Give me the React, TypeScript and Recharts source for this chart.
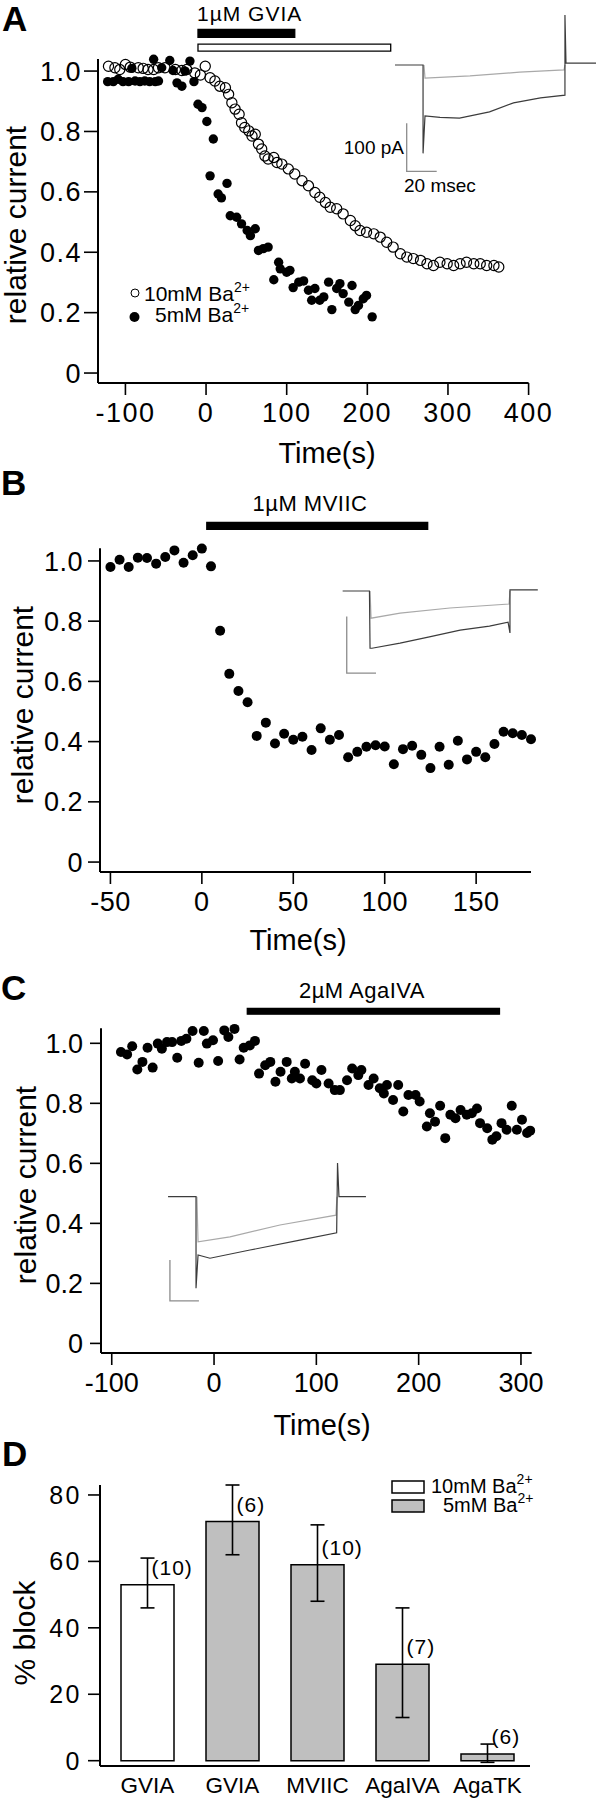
import React from "react";
import {
  Bar,
  BarChart,
  Cell,
  ErrorBar,
  LabelList,
  Line,
  LineChart,
  ReferenceArea,
  Scatter,
  ScatterChart,
  XAxis,
  YAxis,
} from "recharts";

const FONT = "'Liberation Sans', Arial, Helvetica, sans-serif";

// panel A: GVIA, two Ba2+ concentrations
const aOpenTime = [-121, -113, -107, -100, -94, -84, -78, -72, -65, -59, -51, -38, -30, -24, -14, -7, -1, 5, 11, 17, 24, 28, 32, 36, 41, 44, 48, 53, 57, 61, 65, 69, 73, 77, 84, 88, 94, 102, 110, 119, 127, 135, 141, 148, 154, 162, 170, 179, 185, 191, 199, 208, 216, 224, 232, 241, 249, 257, 266, 274, 282, 290, 299, 307, 315, 323, 332, 340, 348, 357, 363];
const aOpenValue = [1.016, 1.011, 1.005, 1.022, 1.013, 1.011, 1.009, 1.005, 1.005, 1.011, 1.011, 1.005, 1.002, 1.005, 0.994, 0.987, 1.016, 0.978, 0.967, 0.95, 0.945, 0.923, 0.895, 0.874, 0.857, 0.829, 0.813, 0.802, 0.785, 0.791, 0.758, 0.742, 0.719, 0.709, 0.714, 0.697, 0.692, 0.676, 0.659, 0.637, 0.62, 0.598, 0.582, 0.565, 0.549, 0.544, 0.527, 0.505, 0.488, 0.472, 0.466, 0.461, 0.45, 0.433, 0.417, 0.395, 0.384, 0.379, 0.373, 0.362, 0.356, 0.367, 0.362, 0.356, 0.362, 0.367, 0.362, 0.362, 0.356, 0.356, 0.351];
const aFilledTime = [-122, -115, -109, -103, -96, -92, -88, -82, -76, -70, -65, -63, -59, -55, -45, -41, -36, -30, -26, -20, -15, -10, -5, 1, 5, 9, 15, 19, 26, 30, 38, 44, 51, 55, 61, 65, 71, 77, 84, 90, 92, 100, 104, 108, 115, 121, 127, 131, 135, 141, 146, 152, 156, 162, 166, 170, 177, 181, 185, 189, 195, 199, 206];
const aFilledValue = [0.965, 0.965, 0.973, 0.965, 0.965, 1.009, 0.967, 0.965, 0.967, 0.965, 1.039, 0.965, 0.967, 1.011, 1.035, 1.002, 0.961, 0.95, 1.0, 1.033, 0.965, 0.89, 0.879, 0.833, 0.653, 0.775, 0.593, 0.58, 0.628, 0.521, 0.516, 0.494, 0.472, 0.455, 0.478, 0.406, 0.412, 0.417, 0.309, 0.367, 0.345, 0.334, 0.34, 0.283, 0.301, 0.305, 0.274, 0.241, 0.28, 0.241, 0.252, 0.301, 0.21, 0.28, 0.296, 0.263, 0.235, 0.29, 0.21, 0.224, 0.246, 0.257, 0.186];
const aTicks = [-100, 0, 100, 200, 300, 400];

// panel B: MVIIC
const bTime = [-50, -45, -40, -35, -30, -25, -20, -15, -10, -5, 0, 5, 10, 15, 20, 25, 30, 35, 40, 45, 50, 55, 60, 65, 70, 75, 80, 85, 90, 95, 100, 105, 110, 115, 120, 125, 130, 135, 140, 145, 150, 155, 160, 165, 170, 175, 180];
const bValue = [0.98, 1.004, 0.98, 1.011, 1.01, 0.991, 1.013, 1.035, 0.994, 1.019, 1.041, 0.982, 0.768, 0.625, 0.568, 0.531, 0.419, 0.463, 0.394, 0.426, 0.406, 0.416, 0.372, 0.444, 0.406, 0.422, 0.348, 0.366, 0.383, 0.388, 0.384, 0.325, 0.375, 0.386, 0.356, 0.312, 0.383, 0.323, 0.403, 0.341, 0.366, 0.348, 0.392, 0.433, 0.428, 0.422, 0.408];
const bTicks = [-50, 0, 50, 100, 150];

// panel C: AgaIVA
const cTime = [-91, -85, -80, -75, -70, -65, -60, -55, -51, -46, -41, -36, -32, -27, -21, -15, -10, -7, -1, 4, 10, 14, 20, 25, 29, 35, 40, 44, 50, 55, 60, 65, 71, 76, 79, 84, 89, 96, 100, 105, 112, 118, 123, 130, 135, 141, 144, 151, 156, 162, 166, 169, 175, 180, 185, 190, 197, 201, 208, 211, 216, 221, 226, 231, 236, 241, 247, 252, 257, 260, 267, 272, 276, 281, 286, 291, 296, 301, 306, 309];
const cValue = [0.971, 0.963, 0.99, 0.913, 0.938, 0.985, 0.919, 0.999, 0.982, 1.004, 1.004, 0.952, 1.008, 1.015, 1.041, 0.935, 1.041, 0.999, 1.01, 0.941, 1.043, 1.021, 1.048, 0.946, 0.985, 0.993, 1.008, 0.899, 0.927, 0.938, 0.872, 0.905, 0.938, 0.883, 0.905, 0.883, 0.932, 0.877, 0.866, 0.911, 0.866, 0.844, 0.844, 0.877, 0.916, 0.894, 0.911, 0.861, 0.883, 0.85, 0.833, 0.861, 0.811, 0.861, 0.773, 0.828, 0.828, 0.806, 0.723, 0.767, 0.739, 0.792, 0.684, 0.762, 0.75, 0.778, 0.762, 0.767, 0.783, 0.734, 0.717, 0.679, 0.69, 0.734, 0.712, 0.792, 0.712, 0.745, 0.701, 0.709];
const cTicks = [-100, 0, 100, 200, 300];

const relTicks = [0, 0.2, 0.4, 0.6, 0.8, 1.0];

// panel D: summary
const dCategories = ["GVIA", "GVIA", "MVIIC", "AgaIVA", "AgaTK"];
const dBlock = [53, 72, 59, 29, 2];
const dErrLow = [7, 10, 11, 16, 2.5];
const dErrHigh = [8, 11, 12, 17, 3];
const dCounts = ["(10)", "(6)", "(10)", "(7)", "(6)"];
const dBath = ["10mM", "5mM", "5mM", "5mM", "5mM"];
const dTicks = [0, 20, 40, 60, 80];

// current traces for the insets, [ms, pA]
const insetADark = [[0, 0], [18.7, 0], [18.7, -196], [20, -113], [30, -116], [43, -118], [63, -104], [79, -84], [97, -73], [113.3, -67], [113.3, 111], [114, 4], [134, 4]];
const insetAGray = [[19.3, 0], [20, -29], [50, -24], [83, -16], [112.7, -11], [113.3, 0]];
const insetAScale = [[7.8, -129], [7.8, -236], [27.8, -236]];
const insetBDark = [[1.8, 0], [20.1, 0], [20.5, -101], [21.8, -101], [41, -92], [61, -81], [82, -69], [102, -62], [114.7, -55], [116, -74], [116, 2], [135, 2]];
const insetBGray = [[20.5, 0], [21.2, -48], [41, -39], [75, -30], [115.4, -23], [116, 0]];
const insetBScale = [[4.6, -45], [4.6, -145], [24.6, -145]];
const insetCDark = [[2.1, 0], [21.4, 0], [21.4, -223], [22.8, -142], [31, -150], [58.6, -130], [93, -106], [118.4, -88], [119, 82], [120, 0], [138.6, 0]];
const insetCGray = [[22, 0], [22.8, -110], [44.8, -98], [79.3, -69], [117.9, -45], [118.6, 0]];
const insetCScale = [[3.4, -154], [3.4, -254], [23.4, -254]];

const zip = (ts: number[], vs: number[]) => ts.map((t, i) => ({ t, v: vs[i] }));
const toTrace = (pts: number[][]) => pts.map(([ms, pA]) => ({ ms, pA }));

const axisLine = { stroke: "#000", strokeWidth: 2 };
const tickLine = { stroke: "#000", strokeWidth: 1.6 };
const tickText = (spacing: number, size = 27) => ({
  fill: "#000",
  fontSize: size,
  fontFamily: FONT,
  letterSpacing: spacing,
});

const filledDot = (r: number) => (p: any) => <circle cx={p.cx} cy={p.cy} r={r} fill="#000" />;
const openDot = (p: any) => (
  <circle cx={p.cx} cy={p.cy} r={5.1} fill="none" stroke="#000" strokeWidth={1.2} />
);

type Drug = { x1: number; x2: number; y1: number; y2: number; fill: string };

function TimePanel({
  top,
  plot,
  xDomain,
  xTicks,
  yDomain,
  yTickSize,
  yTickMargin,
  spacing,
  series,
  drugs,
}: {
  top: number;
  plot: { left: number; right: number; top: number; bottom: number };
  xDomain: [number, number];
  xTicks: number[];
  yDomain: [number, number];
  yTickSize: number;
  yTickMargin: number;
  spacing: number;
  series: { data: { t: number; v: number }[]; shape: any }[];
  drugs: Drug[];
}) {
  const h = 480;
  return (
    <div style={{ position: "absolute", left: 0, top }}>
      <ScatterChart
        width={596}
        height={h}
        margin={{ top: plot.top, right: 596 - plot.right, bottom: h - plot.bottom - 30, left: plot.left - 60 }}
      >
        <XAxis
          type="number"
          dataKey="t"
          domain={xDomain}
          ticks={xTicks}
          interval={0}
          height={30}
          tickSize={12}
          tickMargin={8}
          tick={tickText(spacing)}
          tickLine={tickLine}
          axisLine={axisLine}
        />
        <YAxis
          type="number"
          dataKey="v"
          domain={yDomain}
          ticks={relTicks}
          interval={0}
          width={60}
          tickSize={yTickSize}
          tickMargin={yTickMargin}
          tickFormatter={(v: number) => (v === 0 ? "0" : v.toFixed(1))}
          tick={tickText(spacing)}
          tickLine={tickLine}
          axisLine={axisLine}
        />
        {drugs.map((d, i) => (
          <ReferenceArea
            key={i}
            x1={d.x1}
            x2={d.x2}
            y1={d.y1}
            y2={d.y2}
            fill={d.fill}
            fillOpacity={1}
            stroke="#000"
            strokeWidth={1.3}
            ifOverflow="visible"
          />
        ))}
        {series.map((s, i) => (
          <Scatter key={i} data={s.data} shape={s.shape} isAnimationActive={false} />
        ))}
      </ScatterChart>
    </div>
  );
}

function Inset({
  left,
  top,
  width,
  height,
  xDomain,
  yDomain,
  dark,
  gray,
  scale,
}: {
  left: number;
  top: number;
  width: number;
  height: number;
  xDomain: [number, number];
  yDomain: [number, number];
  dark: number[][];
  gray: number[][];
  scale: number[][];
}) {
  return (
    <div style={{ position: "absolute", left, top }}>
      <LineChart width={width} height={height} margin={{ top: 0, right: 0, bottom: 0, left: 0 }}>
        <XAxis type="number" dataKey="ms" domain={xDomain} hide allowDataOverflow />
        <YAxis type="number" domain={yDomain} hide allowDataOverflow />
        <Line data={toTrace(scale)} dataKey="pA" type="linear" dot={false} stroke="#8c8c8c" strokeWidth={1.3} isAnimationActive={false} />
        <Line data={toTrace(gray)} dataKey="pA" type="linear" dot={false} stroke="#a9a9a9" strokeWidth={1.2} isAnimationActive={false} />
        <Line data={toTrace(dark)} dataKey="pA" type="linear" dot={false} stroke="#3c3c3c" strokeWidth={1.2} isAnimationActive={false} />
      </LineChart>
    </div>
  );
}

function Summary() {
  const rows = dCategories.map((name, i) => ({
    key: `${name}-${dBath[i]}`,
    block: dBlock[i],
    err: [dErrLow[i], dErrHigh[i]],
  }));
  const h = 360;
  return (
    <div style={{ position: "absolute", left: 0, top: 1440 }}>
      <BarChart width={596} height={h} data={rows} margin={{ top: 45, right: 66, bottom: h - 326 - 30, left: 40 }}>
        <XAxis
          dataKey="key"
          height={30}
          tickLine={false}
          tickSize={0}
          tickMargin={11}
          interval={0}
          padding={{ left: 5, right: 0 }}
          tickFormatter={(_v: string, i: number) => dCategories[i]}
          tick={{ fill: "#000", fontSize: 22.5, fontFamily: FONT }}
          axisLine={axisLine}
        />
        <YAxis
          type="number"
          domain={[-1.6, 83]}
          ticks={dTicks}
          interval={0}
          width={60}
          tickSize={12}
          tickMargin={6}
          tick={tickText(2.5, 25)}
          tickLine={tickLine}
          axisLine={axisLine}
        />
        <Bar dataKey="block" barSize={53} stroke="#000" strokeWidth={1.5} isAnimationActive={false}>
          {rows.map((_r, i) => (
            <Cell key={i} fill={dBath[i] === "10mM" ? "#ffffff" : "#bfbfbf"} />
          ))}
          <ErrorBar dataKey="err" width={7} stroke="#000" strokeWidth={1.6} direction="y" />
          <LabelList
            dataKey="block"
            content={(p: any) => (
              <text
                x={Number(p.x) + Number(p.width) / 2 + 4}
                y={Number(p.y) - 10}
                fontSize={21}
                letterSpacing={1}
                fontFamily={FONT}
                fill="#000"
              >
                {dCounts[p.index]}
              </text>
            )}
          />
        </Bar>
      </BarChart>
    </div>
  );
}

const sup = (s: string) => (
  <tspan dy={-9} fontSize={14}>
    {s}
  </tspan>
);

function Annotations() {
  const t = { fontFamily: FONT, fill: "#000" };
  const letter = { ...t, fontSize: 35, fontWeight: 700 };
  const ylab = (x: number, y: number, s: string) => (
    <text {...t} fontSize={30} x={x} y={y} textAnchor="middle" transform={`rotate(-90 ${x} ${y})`}>
      {s}
    </text>
  );
  return (
    <svg
      width={596}
      height={1800}
      style={{ position: "absolute", left: 0, top: 0, pointerEvents: "none" }}
    >
      {/* A */}
      <text {...letter} x={2} y={31}>A</text>
      <text {...t} fontSize={21} letterSpacing={1} x={197} y={21}>1µM GVIA</text>
      {ylab(26, 225, "relative current")}
      <text {...t} fontSize={29} x={327} y={463} textAnchor="middle">Time(s)</text>
      <circle cx={135} cy={293} r={4} fill="none" stroke="#000" strokeWidth={1} />
      <text {...t} fontSize={21} x={144} y={301}>10mM Ba{sup("2+")}</text>
      <circle cx={134.5} cy={317} r={5} fill="#000" />
      <text {...t} fontSize={21} x={155} y={322}>5mM Ba{sup("2+")}</text>
      <text {...t} fontSize={19} x={404} y={154} textAnchor="end">100 pA</text>
      <text {...t} fontSize={19} x={404} y={192}>20 msec</text>

      {/* B */}
      <text {...letter} x={1} y={495}>B</text>
      <text {...t} fontSize={22} letterSpacing={0.5} x={310} y={511} textAnchor="middle">1µM MVIIC</text>
      {ylab(33, 705, "relative current")}
      <text {...t} fontSize={29} x={298} y={950} textAnchor="middle">Time(s)</text>

      {/* C */}
      <text {...letter} x={1} y={1000}>C</text>
      <text {...t} fontSize={22} letterSpacing={0.5} x={362} y={998} textAnchor="middle">2µM AgaIVA</text>
      {ylab(36, 1185, "relative current")}
      <text {...t} fontSize={29} x={322} y={1435} textAnchor="middle">Time(s)</text>

      {/* D */}
      <text {...letter} x={2} y={1466}>D</text>
      {ylab(35, 1633, "% block")}
      <rect x={392} y={1481} width={32} height={12} fill="#fff" stroke="#000" strokeWidth={1.5} />
      <rect x={392} y={1500} width={32} height={12} fill="#bfbfbf" stroke="#000" strokeWidth={1.5} />
      <text {...t} fontSize={20} x={431} y={1493}>10mM Ba{sup("2+")}</text>
      <text {...t} fontSize={20} x={443} y={1512}>5mM Ba{sup("2+")}</text>
    </svg>
  );
}

export default function App() {
  return (
    <div style={{ position: "absolute", left: 0, top: 0, width: 596, height: 1800, background: "#fff" }}>
      <TimePanel
        top={0}
        plot={{ left: 98, right: 528.6, top: 59, bottom: 383 }}
        xDomain={[-134, 400]}
        xTicks={aTicks}
        yDomain={[-0.033, 1.04]}
        yTickSize={14}
        yTickMargin={2}
        spacing={1.5}
        series={[
          { data: zip(aOpenTime, aOpenValue), shape: openDot },
          { data: zip(aFilledTime, aFilledValue), shape: filledDot(4.7) },
        ]}
        drugs={[
          { x1: -10, x2: 110, y1: 1.112, y2: 1.138, fill: "#000" },
          { x1: -10, x2: 229, y1: 1.066, y2: 1.089, fill: "#fff" },
        ]}
      />
      <TimePanel
        top={480}
        plot={{ left: 100, right: 531, top: 68.3, bottom: 392 }}
        xDomain={[-55.7, 179.8]}
        xTicks={bTicks}
        yDomain={[-0.033, 1.042]}
        yTickSize={12}
        yTickMargin={5}
        spacing={0.5}
        series={[{ data: zip(bTime, bValue), shape: filledDot(5) }]}
        drugs={[{ x1: 2.7, x2: 123.5, y1: 1.105, y2: 1.128, fill: "#000" }]}
      />
      <TimePanel
        top={960}
        plot={{ left: 101, right: 531.7, top: 68.3, bottom: 393 }}
        xDomain={[-110.5, 310.5]}
        xTicks={cTicks}
        yDomain={[-0.032, 1.05]}
        yTickSize={11}
        yTickMargin={7}
        spacing={0}
        series={[{ data: zip(cTime, cValue), shape: filledDot(5) }]}
        drugs={[{ x1: 32.5, x2: 279, y1: 1.097, y2: 1.116, fill: "#000" }]}
      />
      <Summary />
      <Inset left={395} top={10} width={201} height={165} xDomain={[0, 134]} yDomain={[-244, 122]} dark={insetADark} gray={insetAGray} scale={insetAScale} />
      <Inset left={340} top={580} width={200} height={100} xDomain={[0, 136.5]} yDomain={[-157, 19.4]} dark={insetBDark} gray={insetBGray} scale={insetBScale} />
      <Inset left={165} top={1155} width={205} height={150} xDomain={[0, 141.4]} yDomain={[-264, 101.7]} dark={insetCDark} gray={insetCGray} scale={insetCScale} />
      <Annotations />
    </div>
  );
}
